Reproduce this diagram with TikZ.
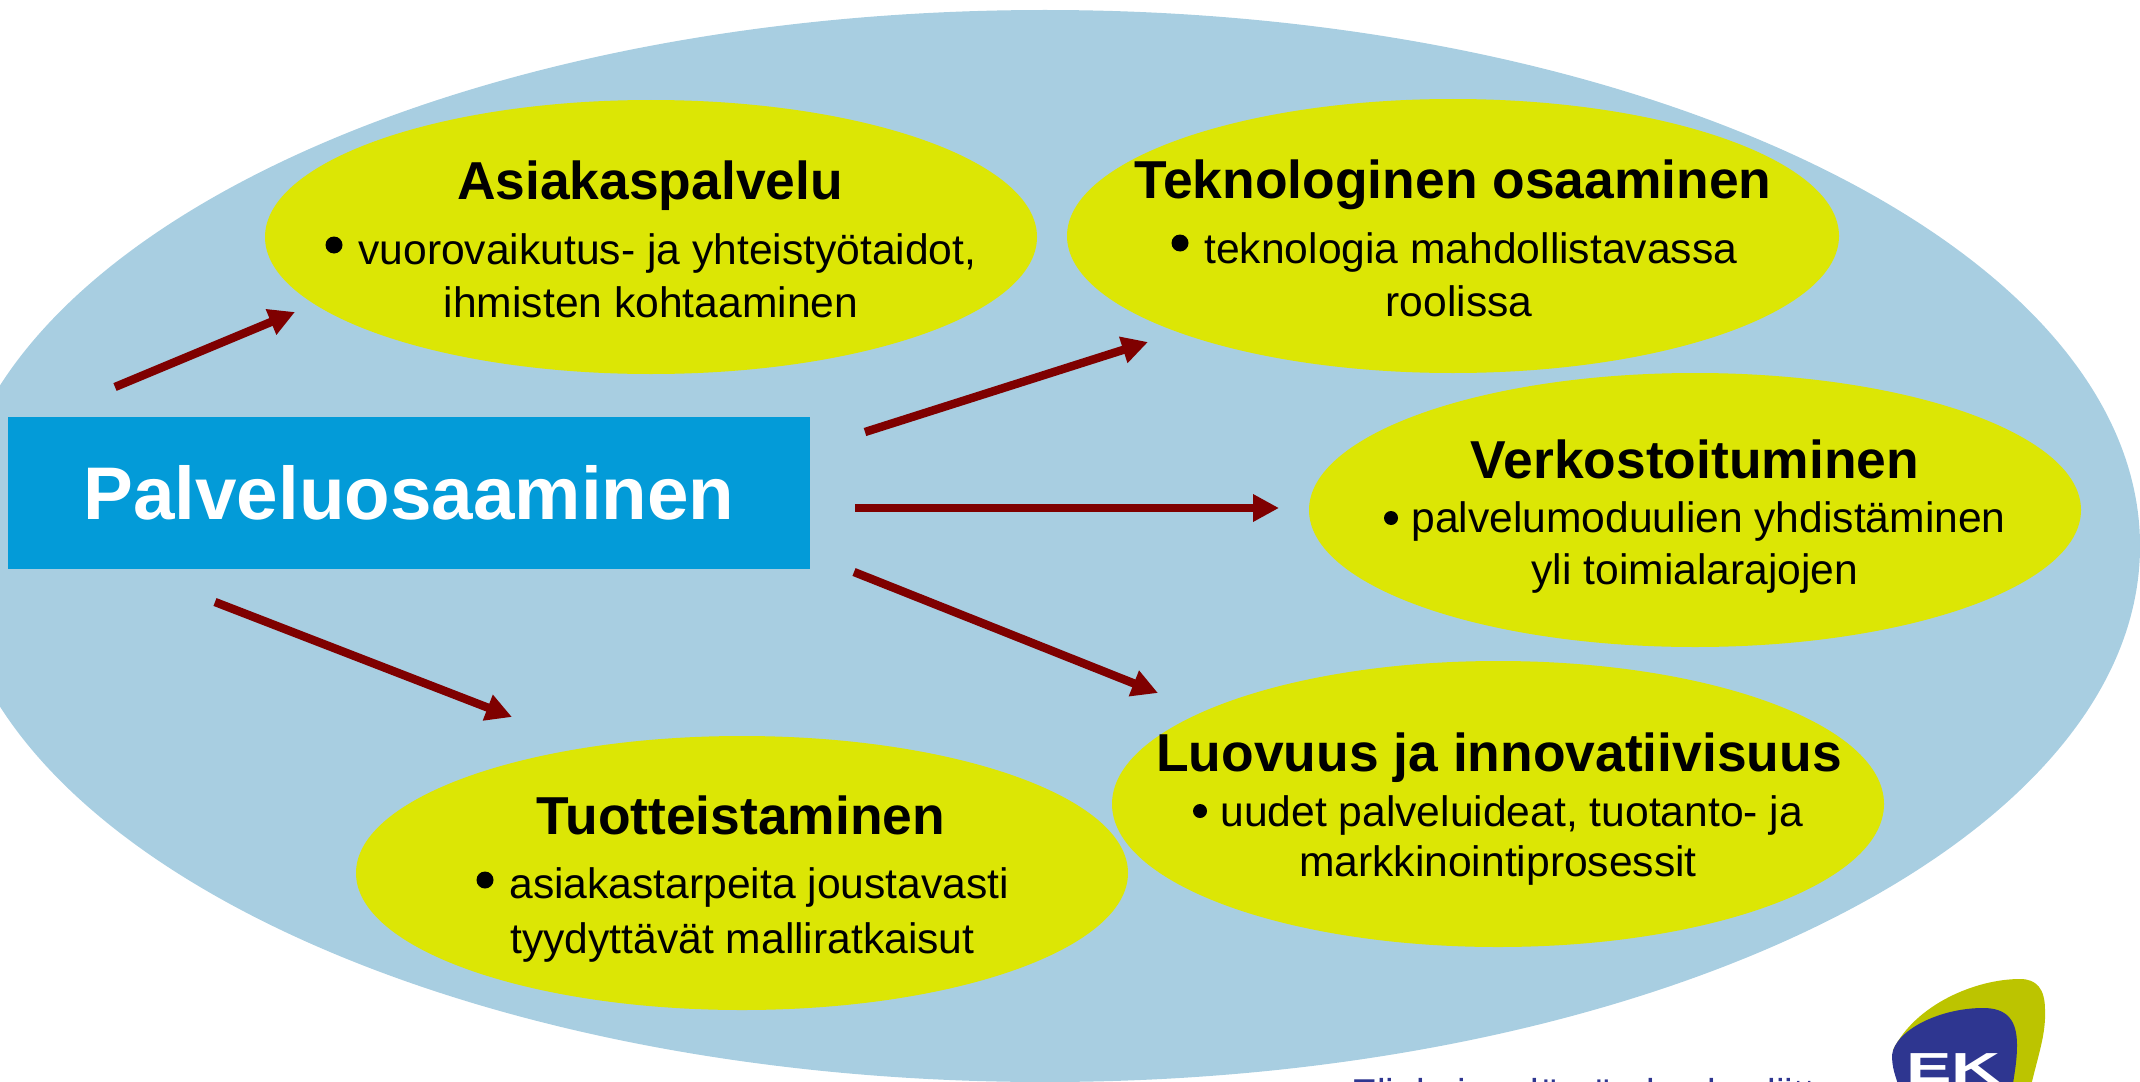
\documentclass[tikz,border=0pt]{standalone}
\usepackage{fontspec}
\usepackage{graphicx}
\setmainfont{Liberation Sans}
\usetikzlibrary{shapes.geometric,arrows.meta}
\definecolor{bigblue}{HTML}{A8CEE1}
\definecolor{lime}{HTML}{DCE605}
\definecolor{boxblue}{HTML}{039BD8}
\definecolor{arrowred}{HTML}{7F0000}
\definecolor{logogreen}{HTML}{BCC400}
\definecolor{logonavy}{HTML}{2E3690}
\tikzset{
  bigoval/.style={ellipse,fill=bigblue,inner sep=0pt,minimum width=1095pt,minimum height=536pt},
  oval/.style={ellipse,fill=lime,inner sep=0pt,minimum width=386pt,minimum height=137pt},
  heading/.style={anchor=base,inner sep=0pt,font=\fontsize{26.7}{30}\selectfont\bfseries},
  bodyc/.style={anchor=base,inner sep=0pt,font=\fontsize{21.3}{25}\selectfont},
  bodyl/.style={anchor=base west,inner sep=0pt,font=\fontsize{21.3}{25}\selectfont},
  dotbig/.style={circle,fill=black,inner sep=0pt,minimum size=8.5pt},
  dotsmall/.style={circle,fill=black,inner sep=0pt,minimum size=7pt},
  pointer/.style={draw=arrowred,line width=4.2pt,-{Triangle[length=13pt,width=13pt]}}
}
\begin{document}
\begin{tikzpicture}[x=0.5pt,y=-0.5pt]
\useasboundingbox (0,0) rectangle (2140,1081);
\clip (0,0) rectangle (2140,1081);
\node[bigoval] (big) at (1045,546) {};
% logo
\fill[logogreen] (1893,1050) .. controls (1915,1005) and (1975,979) .. (2020,979)
  .. controls (2036,979) and (2045,988) .. (2045,1010)
  .. controls (2046,1035) and (2038,1055) .. (2030,1090) -- (1950,1090) -- cycle;
\fill[logonavy] (1892,1055) .. controls (1895,1030) and (1940,1008) .. (1983,1008)
  .. controls (2007,1008) and (2017,1020) .. (2017,1045)
  .. controls (2017,1060) and (2015,1070) .. (2012,1090) -- (1900,1090)
  .. controls (1895,1075) and (1892,1068) .. (1892,1055) -- cycle;
\node[anchor=base west,inner sep=0pt,text=white,font=\fontsize{21}{24}\selectfont\bfseries] (ek) at (1906,1082) {\scalebox{1.62}[1]{EK}};
\node[anchor=base west,inner sep=0pt,text=logonavy,font=\fontsize{19.4}{22}\selectfont] (org) at (1351,1106.5) {Elinkeinoelämän keskusliitto};
% ovals
\node[oval] (asiakas) at (651,237) {};
\node[oval] (tekno) at (1453,236) {};
\node[oval] (verkosto) at (1695,510) {};
\node[oval,minimum height=143pt] (luovuus) at (1498,804) {};
\node[oval] (tuote) at (742,873) {};
% central box
\node[rectangle,fill=boxblue,inner sep=0pt,minimum width=401pt,minimum height=76pt,text=white,font=\fontsize{37.3}{42}\selectfont\bfseries] (palvelu) at (409,493) {Palveluosaaminen};
% texts
\node[heading] (t1) at (650,199) {Asiakaspalvelu};
\node[dotbig] (b1) at (334,245) {};
\node[bodyl] (t1a) at (358,264) {vuorovaikutus- ja yhteistyötaidot,};
\node[bodyc] (t1b) at (651,317) {ihmisten kohtaaminen};

\node[heading] (t2) at (1453,198) {Teknologinen osaaminen};
\node[dotbig] (b2) at (1180,243) {};
\node[bodyl] (t2a) at (1204,263) {teknologia mahdollistavassa};
\node[bodyc] (t2b) at (1459,316) {roolissa};

\node[heading] (t3) at (1695,478) {Verkostoituminen};
\node[dotsmall] (b3) at (1391,518) {};
\node[bodyl] (t3a) at (1411,532) {palvelumoduulien yhdistäminen};
\node[bodyc] (t3b) at (1695,584) {yli toimialarajojen};

\node[heading] (t4) at (1499,771) {Luovuus ja innovatiivisuus};
\node[dotsmall] (b4) at (1200,811) {};
\node[bodyl] (t4a) at (1220,826) {uudet palveluideat, tuotanto- ja};
\node[bodyc] (t4b) at (1498,876) {markkinointiprosessit};

\node[heading] (t5) at (741,834) {Tuotteistaminen};
\node[dotbig] (b5) at (485,880) {};
\node[bodyl] (t5a) at (509,898) {asiakastarpeita joustavasti};
\node[bodyl] (t5b) at (510,953) {tyydyttävät malliratkaisut};
% connectors
\coordinate (s1) at (115,387); \coordinate (e1) at (295,312);
\coordinate (s2) at (865,432); \coordinate (e2) at (1148,342);
\coordinate (s3) at (855,508); \coordinate (e3) at (1279,508);
\coordinate (s4) at (854,572); \coordinate (e4) at (1158,693);
\coordinate (s5) at (215,602); \coordinate (e5) at (512,717);
\draw[pointer] (s1) -- (e1);
\draw[pointer] (s2) -- (e2);
\draw[pointer] (s3) -- (e3);
\draw[pointer] (s4) -- (e4);
\draw[pointer] (s5) -- (e5);
\end{tikzpicture}
\end{document}
